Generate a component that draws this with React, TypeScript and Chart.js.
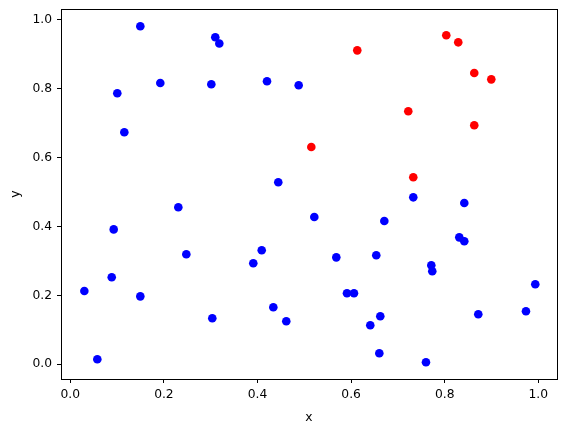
import { useEffect, useRef } from "react";
import { Chart, registerables } from "chart.js";

Chart.register(...registerables);

const blueX = [
  0.1496, 0.1004, 0.1154, 0.1923, 0.3013, 0.3098, 0.3184, 0.4203, 0.488, 0.4444,
  0.2308, 0.0927, 0.2479, 0.391, 0.409, 0.0885, 0.03, 0.1496, 0.3034, 0.4338,
  0.4615, 0.0577, 0.7329, 0.8419, 0.5214, 0.671, 0.8312, 0.8419, 0.5684, 0.6538,
  0.7714, 0.7735, 0.9936, 0.5912, 0.6062, 0.9737, 0.8718, 0.6624, 0.641, 0.6603,
  0.76,
];
const blueY = [
  0.98, 0.7855, 0.6725, 0.8154, 0.8116, 0.948, 0.93, 0.8203, 0.8087, 0.5275,
  0.4551, 0.391, 0.3188, 0.2928, 0.3304, 0.2522, 0.2125, 0.197, 0.1333, 0.1652,
  0.1246, 0.0145, 0.484, 0.4675, 0.427, 0.4155, 0.368, 0.3565, 0.31, 0.316,
  0.287, 0.2696, 0.2319, 0.2058, 0.2058, 0.1536, 0.1449, 0.1391, 0.113, 0.0319,
  0.0058,
];
const redX = [0.6132, 0.8034, 0.829, 0.8632, 0.8996, 0.7222, 0.8632, 0.515, 0.7329];
const redY = [0.91, 0.9536, 0.9333, 0.8443, 0.826, 0.7333, 0.6928, 0.6299, 0.542];

const xTicks = [0, 0.2, 0.4, 0.6, 0.8, 1.0];
const yTicks = [0, 0.2, 0.4, 0.6, 0.8, 1.0];
const xTitle = "x";
const yTitle = "y";

const FONT = "'DejaVu Sans', sans-serif";
const FS = 12.3;

const framePlugin = {
  id: "frame",
  afterDraw(chart: any) {
    const { ctx, chartArea: a } = chart;
    ctx.save();
    ctx.strokeStyle = "#000";
    ctx.lineWidth = 1;
    ctx.strokeRect(Math.round(a.left) + 0.5, Math.round(a.top) + 0.5, Math.round(a.right - a.left), Math.round(a.bottom - a.top));
    ctx.restore();
  },
};

export default function App() {
  const ref = useRef<HTMLCanvasElement | null>(null);

  useEffect(() => {
    if (!ref.current) return;
    const toPts = (xs: number[], ys: number[]) => xs.map((x, i) => ({ x, y: ys[i] }));
    const chart = new Chart(ref.current, {
      type: "scatter",
      data: {
        datasets: [
          {
            data: toPts(blueX, blueY),
            backgroundColor: "#0000ff",
            borderWidth: 0,
            pointRadius: 4.3,
          },
          {
            data: toPts(redX, redY),
            backgroundColor: "#ff0000",
            borderWidth: 0,
            pointRadius: 4.3,
          },
        ],
      },
      options: {
        animation: false,
        responsive: true,
        maintainAspectRatio: false,
        layout: { padding: { top: 9, right: 10, left: 0, bottom: 0 } },
        plugins: { legend: { display: false }, tooltip: { enabled: false } },
        scales: {
          x: {
            type: "linear",
            min: -0.0199,
            max: 1.04,
            afterBuildTicks: (s: any) => {
              s.ticks = xTicks.map((v) => ({ value: v }));
            },
            afterFit: (s: any) => {
              s.height = 53;
              s.paddingLeft = 0;
              s.paddingRight = 0;
            },
            grid: { drawOnChartArea: false, drawTicks: true, tickLength: 4, color: "#000" },
            border: { display: false },
            ticks: {
              color: "#000",
              font: { family: FONT, size: FS },
              padding: 4,
              maxRotation: 0,
              callback: (v: any) => Number(v).toFixed(1),
            },
            title: {
              display: true,
              text: xTitle,
              color: "#000",
              font: { family: FONT, size: FS },
              padding: { top: 0, bottom: 7 },
            },
          },
          y: {
            type: "linear",
            min: -0.0426,
            max: 1.0299,
            afterBuildTicks: (s: any) => {
              s.ticks = yTicks.map((v) => ({ value: v }));
            },
            afterFit: (s: any) => {
              s.width = 61;
              s.paddingTop = 0;
              s.paddingBottom = 0;
            },
            grid: { drawOnChartArea: false, drawTicks: true, tickLength: 4, color: "#000" },
            border: { display: false },
            ticks: {
              color: "#000",
              font: { family: FONT, size: FS },
              padding: 5,
              callback: (v: any) => Number(v).toFixed(1),
            },
            title: {
              display: true,
              text: yTitle,
              color: "#000",
              font: { family: FONT, size: FS },
              padding: { top: 8, bottom: 0 },
            },
          },
        },
      },
      plugins: [framePlugin],
    });
    return () => chart.destroy();
  }, []);

  return (
    <div style={{ position: "absolute", left: 0, top: 0, width: 567, height: 432, background: "#fff" }}>
      <canvas ref={ref} />
    </div>
  );
}
